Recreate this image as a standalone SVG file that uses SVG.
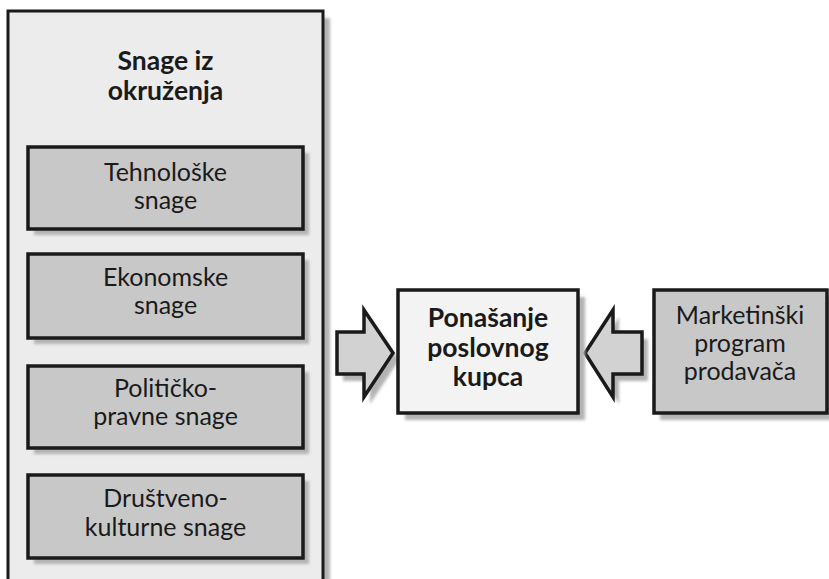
<svg xmlns="http://www.w3.org/2000/svg" width="829" height="579" viewBox="0 0 829 579">
<defs>
<filter id="blur" x="-10%" y="-10%" width="130%" height="130%"><feGaussianBlur stdDeviation="1.8"/></filter>
<style>
.sh{fill:#b3b3b3;filter:url(#blur)}
.outer{fill:#ececec;stroke:#1a1a1a;stroke-width:3}
.inner{fill:#c8c8c8;stroke:#1a1a1a;stroke-width:3.5}
.center{fill:#f3f3f3;stroke:#1a1a1a;stroke-width:3.5}
.arrow{fill:#d2d2d2;stroke:#1a1a1a;stroke-width:3.5;stroke-linejoin:miter}
text{font-family:Lato,"Open Sans","Liberation Sans",sans-serif;font-size:25px;fill:#1a1a1a;text-anchor:middle}
.b{font-weight:bold;font-size:26.5px}
.c{font-weight:bold;font-size:26.5px}
</style>
</defs>
<rect width="829" height="579" fill="#ffffff"/>
<g id="environment">
<rect class="sh" x="15" y="18" width="315" height="600"/>
<rect class="outer" x="8" y="11" width="315" height="600"/>
<text class="b" x="165.5" y="70">Snage iz</text>
<text class="b" x="165.5" y="100">okruženja</text>
</g>
<g id="tehnoloske">
<rect class="sh" x="34" y="153" width="275" height="82"/>
<rect class="inner" x="28" y="147" width="275" height="82"/>
<text x="165.5" y="181">Tehnološke</text>
<text x="165.5" y="209">snage</text>
</g>
<g id="ekonomske">
<rect class="sh" x="34" y="260" width="275" height="84"/>
<rect class="inner" x="28" y="254" width="275" height="84"/>
<text x="165.5" y="286">Ekonomske</text>
<text x="165.5" y="314">snage</text>
</g>
<g id="politicko">
<rect class="sh" x="34" y="372" width="275" height="82"/>
<rect class="inner" x="28" y="366" width="275" height="82"/>
<text x="165.5" y="397">Političko-</text>
<text x="165.5" y="425">pravne snage</text>
</g>
<g id="drustveno">
<rect class="sh" x="34" y="481" width="275" height="83"/>
<rect class="inner" x="28" y="475" width="275" height="83"/>
<text x="165.5" y="507">Društveno-</text>
<text x="165.5" y="536">kulturne snage</text>
</g>
<g id="connectors">
<polygon class="sh" points="343,339 370,339 370,317 399,360 370,404 370,381 343,381"/>
<polygon class="arrow" points="337,332 364,332 364,310 393,353 364,397 364,374 337,374"/>
<polygon class="sh" points="648,339 619,339 619,317 591,360 619,404 619,381 648,381"/>
<polygon class="arrow" points="642,332 613,332 613,310 585,353 613,397 613,374 642,374"/>
</g>
<g id="ponasanje">
<rect class="sh" x="405" y="297" width="180" height="123"/>
<rect class="center" x="398" y="290" width="180" height="123"/>
<text class="c" x="488" y="327">Ponašanje</text>
<text class="c" x="488" y="357">poslovnog</text>
<text class="c" x="488" y="386">kupca</text>
</g>
<g id="marketing">
<rect class="sh" x="660" y="297" width="173" height="123"/>
<rect class="inner" x="654" y="290" width="173" height="123"/>
<text x="740" y="324">Marketinški</text>
<text x="740" y="352">program</text>
<text x="740" y="380">prodavača</text>
</g>
</svg>
